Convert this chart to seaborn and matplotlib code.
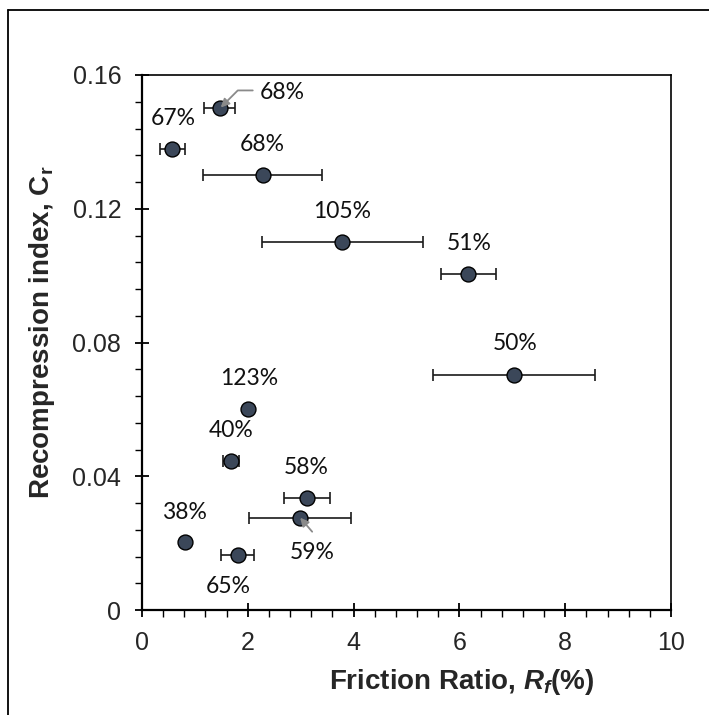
import numpy as np
import pandas as pd
import matplotlib
matplotlib.use("Agg")
import matplotlib.pyplot as plt
from matplotlib.ticker import MultipleLocator, FuncFormatter
from matplotlib.lines import Line2D
import seaborn as sns

# Friction ratio (mean, +/- spread) and recompression index per site
friction_ratio = [1.47, 0.57, 2.28, 3.79, 6.17, 7.03, 2.00, 1.68, 3.11, 2.99, 0.81, 1.81]
friction_err = [0.29, 0.235, 1.13, 1.52, 0.52, 1.535, 0.05, 0.15, 0.435, 0.96, 0.05, 0.315]
recompression = [0.150, 0.138, 0.130, 0.110, 0.1005, 0.0704, 0.060, 0.0445, 0.0335, 0.0276, 0.0204, 0.0164]
cov_labels = ["68%", "67%", "68%", "105%", "51%", "50%", "123%", "40%", "58%", "59%", "38%", "65%"]

# label offsets in pixels relative to each point (x right, y up)
label_offsets = [(62, 16), (1, 30), (0, 31), (0, 31), (1, 30), (1, 31),
                 (1, 31), (0, 31), (0, 30), (12, -35), (0, 29), (-9, -31)]

df = pd.DataFrame({"Rf": friction_ratio, "Rf_err": friction_err,
                   "Cr": recompression, "label": cov_labels})

sns.set_style("ticks")
plt.rcParams["font.family"] = ["Liberation Sans", "DejaVu Sans"]
plt.rcParams["mathtext.fontset"] = "custom"
plt.rcParams["mathtext.rm"] = "Liberation Sans:bold"
plt.rcParams["mathtext.it"] = "Liberation Sans:bold:italic"

W, H = 709, 715
fig = plt.figure(figsize=(W / 100, H / 100), dpi=100)
ax = fig.add_axes([142 / W, 1 - 610 / H, 529 / W, 535 / H])

marker_fill = "#3B4759"
ax.errorbar(df["Rf"], df["Cr"], xerr=df["Rf_err"], fmt="none",
            ecolor="#1a1a1a", elinewidth=1.2, capsize=4, capthick=1.2, zorder=2)
sns.scatterplot(data=df, x="Rf", y="Cr", ax=ax, s=115, color=marker_fill,
                edgecolor="black", linewidth=1.0, zorder=3, legend=False)

for (x, y, lab), (dx, dy) in zip(zip(df["Rf"], df["Cr"], df["label"]), label_offsets):
    ax.annotate(lab, xy=(x, y), xytext=(dx, dy), textcoords="offset pixels",
                ha="center", va="center", fontsize=16.5, family=["Lato", "DejaVu Sans"],
                color="#111111")

# callout arrows for the two crowded points
ax.annotate("", xy=(df["Rf"][0], df["Cr"][0]), xytext=(33, 18), textcoords="offset pixels",
            arrowprops=dict(arrowstyle="-|>,head_length=0.5,head_width=0.25", color="#8a8a8a",
                            lw=1.3, shrinkA=0, shrinkB=1,
                            connectionstyle="angle,angleA=0,angleB=45,rad=0"))
ax.annotate("", xy=(df["Rf"][9], df["Cr"][9]), xytext=(12, -14), textcoords="offset pixels",
            arrowprops=dict(arrowstyle="-|>,head_length=0.5,head_width=0.25", color="#8a8a8a",
                            lw=1.3, shrinkA=0, shrinkB=0))

ax.set_xlim(0, 10)
ax.set_ylim(0, 0.16)
ax.xaxis.set_major_locator(MultipleLocator(2))
ax.xaxis.set_minor_locator(MultipleLocator(0.4))
ax.yaxis.set_major_locator(MultipleLocator(0.04))
ax.yaxis.set_minor_locator(MultipleLocator(0.008))
ax.yaxis.set_major_formatter(FuncFormatter(lambda v, p: "0" if abs(v) < 1e-9 else f"{v:.2f}"))
ax.xaxis.set_major_formatter(FuncFormatter(lambda v, p: f"{v:.0f}"))
ax.tick_params(which="major", direction="inout", length=10, width=1.3,
               labelsize=18, color="black", pad=10)
ax.tick_params(which="minor", direction="out", length=5, width=1.0, color="black")

for side in ["left", "bottom"]:
    ax.spines[side].set_linewidth(1.6)
for side in ["top", "right"]:
    ax.spines[side].set_linewidth(1.2)
for s in ax.spines.values():
    s.set_color("black")

ax.set_xlabel(r"Friction Ratio, $R_f$(%)", fontsize=20, fontweight="bold")
ax.set_ylabel(r"Recompression index, C$_\mathrm{r}$", fontsize=20, fontweight="bold")
ax.xaxis.set_label_coords(0.605, -0.106)
ax.yaxis.set_label_coords(-0.16, 0.52)

# outer frame around the figure
fig.add_artist(Line2D([8 / W, 8 / W], [1 - 10 / H, 0], transform=fig.transFigure,
                      color="black", lw=1.3))
fig.add_artist(Line2D([8 / W, 1], [1 - 10 / H, 1 - 10 / H], transform=fig.transFigure,
                      color="black", lw=1.3))

fig.savefig("out.png", dpi=100)
